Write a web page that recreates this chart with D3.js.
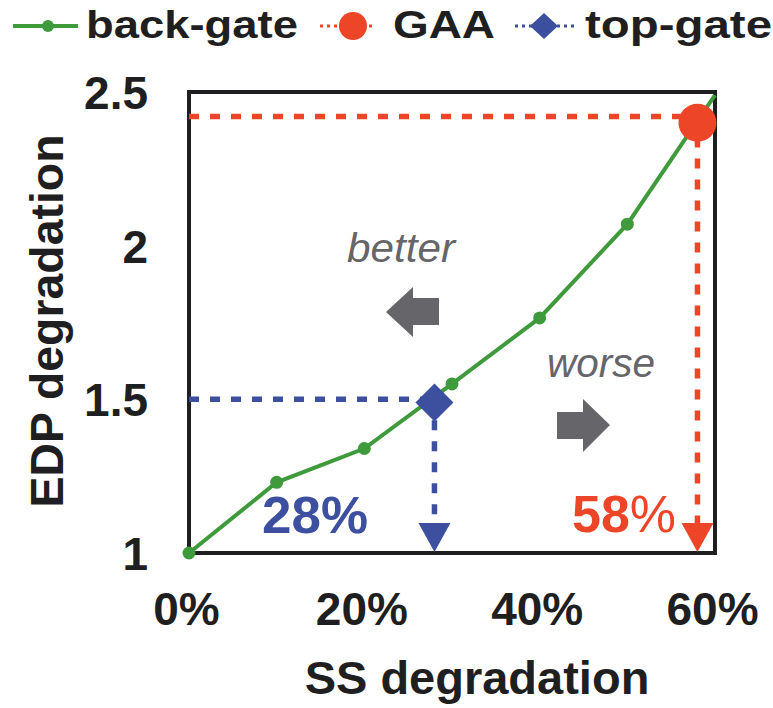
<!DOCTYPE html>
<html>
<head>
<meta charset="utf-8">
<script src="https://cdn.jsdelivr.net/npm/d3@7"></script>
<style>
  body { margin: 0; background: #fff; }
  text { font-family: "Liberation Sans", Arial, sans-serif; }
</style>
</head>
<body>
<svg id="chart" width="773" height="708"></svg>
<script>
// data
const ssDeg   = [0, 0.1, 0.2, 0.3, 0.4, 0.5, 0.6];
const edpDeg  = [1, 1.23, 1.34, 1.55, 1.765, 2.07, 2.49];
const gaaPoint = [0.58, 2.40];
const gaaGuide = [0.58, 2.42];
const topPoint = [0.28, 1.49];
const topGuide = [0.28, 1.50];
const xTicks = [0, 0.2, 0.4, 0.6];
const yTicks = [1, 1.5, 2, 2.5];
const seriesNames = ["back-gate", "GAA", "top-gate"];

const GREEN = "#3f9a3c";
const RED = "#ec4527";
const BLUE = "#3d4f9f";
const GREY = "#666569";
const INK = "#1f1f22";

const LEFT = 189, RIGHT = 715, TOP = 92, BOT = 553;

var svg = d3.select("#chart");

var x = d3.scaleLinear().domain([0, 0.6]).range([LEFT, RIGHT]),
    y = d3.scaleLinear().domain([1, 2.5]).range([BOT, TOP]);

// frame
svg.append("rect")
  .attr("x", LEFT).attr("y", TOP)
  .attr("width", RIGHT - LEFT).attr("height", BOT - TOP)
  .attr("fill", "none").attr("stroke", INK).attr("stroke-width", 4);

// x axis (labels only)
svg.append("g")
  .attr("transform", "translate(0," + BOT + ")")
  .call(d3.axisBottom(x).tickValues(xTicks).tickFormat(d3.format(".0%")).tickSize(0))
  .call(g => g.select(".domain").remove())
  .call(g => g.selectAll("text")
    .attr("y", 72).attr("dy", 0).attr("dx", -3)
    .attr("font-size", 46).attr("font-weight", "bold").attr("fill", INK)
    .style("font-family", "'Liberation Sans', Arial, sans-serif"));

// y axis (labels only)
svg.append("g")
  .attr("transform", "translate(" + LEFT + ",0)")
  .call(d3.axisLeft(y).tickValues(yTicks).tickFormat(d3.format("")).tickSize(0))
  .call(g => g.select(".domain").remove())
  .call(g => g.selectAll("text")
    .attr("x", -41).attr("dy", "0.36em")
    .attr("font-size", 46).attr("font-weight", "bold").attr("fill", INK)
    .style("font-family", "'Liberation Sans', Arial, sans-serif"));

// axis titles
svg.append("text")
  .attr("x", 477).attr("y", 694)
  .attr("text-anchor", "middle")
  .attr("font-size", 47).attr("font-weight", "bold").attr("fill", INK)
  .text("SS degradation");

svg.append("text")
  .attr("transform", "translate(63,321) rotate(-90)")
  .attr("text-anchor", "middle")
  .attr("font-size", 46).attr("font-weight", "bold").attr("fill", INK)
  .attr("textLength", 373).attr("lengthAdjust", "spacingAndGlyphs")
  .text("EDP degradation");

// guide lines (dashed)
function guide(pt, color, tipY) {
  var px = x(pt[0]), py = y(pt[1]);
  svg.append("line")
    .attr("x1", LEFT).attr("x2", px).attr("y1", py).attr("y2", py)
    .attr("stroke", color).attr("stroke-width", 5.5)
    .attr("stroke-dasharray", "10,11");
  svg.append("line")
    .attr("x1", px).attr("x2", px).attr("y1", py).attr("y2", tipY)
    .attr("stroke", color).attr("stroke-width", 5.5)
    .attr("stroke-dasharray", "10,11");
  // arrow head at the x axis
  svg.append("path")
    .attr("d", "M" + (px - 16) + "," + (BOT - 30) + "L" + (px + 16) + "," + (BOT - 30) + "L" + px + "," + (BOT - 1) + "Z")
    .attr("fill", color);
}
guide(gaaGuide, RED, BOT - 30);
guide(topGuide, BLUE, BOT - 30);

// back-gate line
var pts = ssDeg.map((d, i) => [d, edpDeg[i]]);
svg.append("path")
  .datum(pts)
  .attr("fill", "none").attr("stroke", GREEN).attr("stroke-width", 4)
  .attr("d", d3.line().x(d => x(d[0])).y(d => y(d[1])));

svg.selectAll(".dot")
  .data(pts.filter(d => d[0] < 0.6))
  .enter().append("circle")
    .attr("class", "dot")
    .attr("r", 6.5)
    .attr("cx", d => x(d[0]))
    .attr("cy", d => y(d[1]))
    .attr("fill", GREEN);

// GAA point
svg.append("circle")
  .attr("cx", x(gaaPoint[0])).attr("cy", y(gaaPoint[1]))
  .attr("r", 19).attr("fill", RED);

// top-gate diamond
svg.append("path")
  .attr("transform", "translate(" + x(topPoint[0]) + "," + y(topPoint[1]) + ")")
  .attr("d", "M0,-19L19,0L0,19L-19,0Z")
  .attr("fill", BLUE);

// better / worse annotations
svg.append("text")
  .attr("x", 347).attr("y", 262)
  .attr("font-size", 40).attr("font-style", "italic").attr("fill", GREY)
  .attr("textLength", 108).attr("lengthAdjust", "spacingAndGlyphs")
  .text("better");

svg.append("path")
  .attr("d", "M386,312L413,287L413,298L439,298L439,325L413,325L413,337Z")
  .attr("fill", GREY);

svg.append("text")
  .attr("x", 547).attr("y", 377)
  .attr("font-size", 40).attr("font-style", "italic").attr("fill", GREY)
  .attr("textLength", 108).attr("lengthAdjust", "spacingAndGlyphs")
  .text("worse");

svg.append("path")
  .attr("d", "M610,425L583,399L583,412L557,412L557,439L583,439L583,452Z")
  .attr("fill", GREY);

// percentage callouts
svg.append("text")
  .attr("x", 262).attr("y", 533)
  .attr("font-size", 52).attr("font-weight", "bold").attr("fill", BLUE)
  .attr("textLength", 106).attr("lengthAdjust", "spacingAndGlyphs")
  .text(d3.format(".0%")(topGuide[0]));

var t58 = svg.append("text")
  .attr("x", 572).attr("y", 532)
  .attr("font-size", 52).attr("fill", RED);
t58.append("tspan").attr("font-weight", "bold").text(Math.round(gaaGuide[0] * 100));
t58.append("tspan").text("%");

// legend
var LEG_Y = 26, LEG_BASE = 38;
var legend = svg.append("g");

legend.append("line")
  .attr("x1", 13).attr("x2", 78).attr("y1", LEG_Y).attr("y2", LEG_Y)
  .attr("stroke", GREEN).attr("stroke-width", 4);
legend.append("circle").attr("cx", 48).attr("cy", LEG_Y).attr("r", 6).attr("fill", GREEN);

legend.append("line")
  .attr("x1", 320).attr("x2", 376).attr("y1", LEG_Y).attr("y2", LEG_Y)
  .attr("stroke", RED).attr("stroke-width", 3).attr("stroke-dasharray", "3,4");
legend.append("circle").attr("cx", 353).attr("cy", LEG_Y).attr("r", 14).attr("fill", RED);

legend.append("line")
  .attr("x1", 515).attr("x2", 574).attr("y1", LEG_Y).attr("y2", LEG_Y)
  .attr("stroke", BLUE).attr("stroke-width", 3).attr("stroke-dasharray", "3,4");
legend.append("path")
  .attr("transform", "translate(544," + LEG_Y + ")")
  .attr("d", "M0,-13L14,0L0,13L-14,0Z")
  .attr("fill", BLUE);

var legText = [[86, 212], [393, 102], [585, 187]];
legend.selectAll(".legtext")
  .data(seriesNames)
  .enter().append("text")
    .attr("class", "legtext")
    .attr("x", (d, i) => legText[i][0])
    .attr("y", LEG_BASE)
    .attr("font-size", 39).attr("font-weight", "bold").attr("fill", INK)
    .attr("textLength", (d, i) => legText[i][1]).attr("lengthAdjust", "spacingAndGlyphs")
    .text(d => d);
</script>
</body>
</html>
